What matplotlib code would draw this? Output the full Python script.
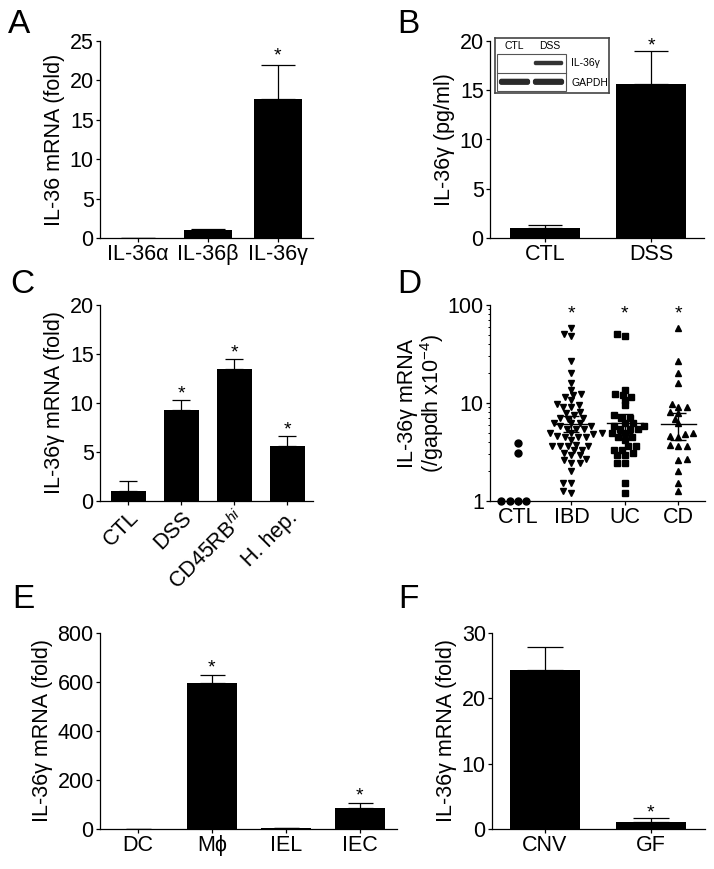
import numpy as np
import matplotlib
matplotlib.use('Agg')
import matplotlib.pyplot as plt
from matplotlib.patches import Rectangle, FancyBboxPatch

FS = 15.5
SFS = 14
plt.rcParams['font.family'] = ['Liberation Sans', 'DejaVu Sans']
plt.rcParams['mathtext.fontset'] = 'custom'
plt.rcParams['mathtext.rm'] = 'Liberation Sans'
plt.rcParams['mathtext.it'] = 'Liberation Sans:italic'
plt.rcParams['font.size'] = FS
plt.rcParams['axes.linewidth'] = 0.9

# ---------------- data ----------------
a_cats = ['IL-36α', 'IL-36β', 'IL-36γ']
a_vals = [0.0, 1.0, 17.6]
a_err = [0.0, 0.1, 4.3]
a_sig = [False, False, True]

b_cats = ['CTL', 'DSS']
b_vals = [1.05, 15.6]
b_err = [0.25, 3.4]
b_sig = [False, True]

c_cats = ['CTL', 'DSS', r'CD45RB$^{hi}$', 'H. hep.']
c_vals = [1.0, 9.3, 13.5, 5.6]
c_err = [1.0, 1.0, 1.0, 1.0]
c_sig = [False, True, True, True]

d_cats = ['CTL', 'IBD', 'UC', 'CD']
d_ctl = [3.9, 3.1, 1.0, 1.0, 1.0, 1.0]
d_uc = [50.6, 48.6, 13.6, 12.4, 11.6, 12.0, 10.7, 9.5, 7.5, 7.0, 7.0,
        6.3, 6.3, 5.8, 5.8, 5.4, 5.4, 5.4, 4.9, 4.9, 4.5, 4.5, 4.2,
        3.6, 3.6, 3.3, 3.3, 2.95, 3.07, 2.95, 2.46, 2.46, 1.54, 1.22]
d_cd = [57.8, 27.0, 20.1, 15.9, 9.7, 9.0, 9.0, 8.1, 7.85, 6.9, 6.2,
        4.9, 4.8, 4.6, 4.5, 3.7, 3.6, 3.6, 2.66, 2.62, 2.04, 1.54, 1.26]
d_ibd = d_uc + d_cd
d_mean = [None, 6.1, 6.2, 6.1]
d_upper = [None, 7.3, 7.7, 7.9]
d_lower = [None, 5.1, 4.9, 4.2]
d_sig = [False, True, True, True]

e_cats = ['DC', 'Mϕ', 'IEL', 'IEC']
e_vals = [2.0, 595.0, 4.0, 86.0]
e_err = [0.0, 33.0, 0.0, 20.0]
e_sig = [False, True, False, True]

f_cats = ['CNV', 'GF']
f_vals = [24.4, 1.0]
f_err = [3.4, 0.65]
f_sig = [False, True]

# ---------------- layout ----------------
W, H = 714, 869
fig = plt.figure(figsize=(W / 100, H / 100), dpi=100)


def px_axes(l, t, r, b):
    return fig.add_axes([l / W, 1 - b / H, (r - l) / W, (b - t) / H])


def style(ax):
    ax.spines['top'].set_visible(False)
    ax.spines['right'].set_visible(False)
    ax.tick_params(direction='out', length=3, width=0.9, pad=1.5, labelsize=FS)


def barpanel(ax, cats, vals, err, sig, xlim, ylim, yticks, ylabel,
             width, capsize, staroff=1.5):
    x = np.arange(len(cats))
    ax.errorbar(x, vals, yerr=[np.zeros(len(err)), err], fmt='none',
                ecolor='black', elinewidth=0.9, capsize=capsize,
                capthick=0.9, zorder=1)
    ax.bar(x, vals, width=width, color='black', zorder=2)
    for xi, v, e, s in zip(x, vals, err, sig):
        if s:
            ax.annotate('*', (xi, v + e), xytext=(0, staroff),
                        textcoords='offset points', ha='center',
                        va='baseline', fontsize=SFS)
    ax.set_xlim(*xlim)
    ax.set_ylim(*ylim)
    ax.set_yticks(yticks)
    ax.set_xticks(x)
    ax.set_xticklabels(cats)
    ax.set_ylabel(ylabel, fontsize=FS, labelpad=3)
    style(ax)


# A
axA = px_axes(100, 41, 313, 238)
barpanel(axA, a_cats, a_vals, a_err, a_sig, (-0.54, 2.5), (0, 25),
         [0, 5, 10, 15, 20, 25], 'IL-36 mRNA (fold)', 0.68, 12, staroff=3.5)

# B
axB = px_axes(490, 41, 704, 238)
barpanel(axB, b_cats, b_vals, b_err, b_sig, (-0.52, 1.5), (0, 20),
         [0, 5, 10, 15, 20], 'IL-36γ (pg/ml)', 0.66, 12.5, staroff=0.5)

# inset blot in B
axI = px_axes(495, 38, 609, 93)
axI.set_xlim(0, 114)
axI.set_ylim(55, 0)
axI.set_xticks([])
axI.set_yticks([])
for sp in axI.spines.values():
    sp.set_linewidth(1.2)
    sp.set_color('#444444')
axI.add_patch(Rectangle((2, 16), 69, 37, fill=False, ec='#555555', lw=0.8))
axI.plot([2, 71], [35, 35], color='#555555', lw=0.8)
lanes = [(4, 35), (38, 69)]
band_il = [False, True]
for (x0, x1), has in zip(lanes, band_il):
    if has:
        axI.add_patch(FancyBboxPatch((x0 + 2, 24), x1 - x0 - 4, 2.0,
                                     boxstyle='round,pad=1.2,rounding_size=1.8',
                                     fc='#333333', ec='none'))
    axI.add_patch(FancyBboxPatch((x0 + 1.5, 42.3), x1 - x0 - 3, 3.0,
                                 boxstyle='round,pad=1.6,rounding_size=2.5',
                                 fc='#2a2a2a', ec='none'))
axI.text(19, 8, 'CTL', ha='center', va='center', fontsize=7.5)
axI.text(55, 8, 'DSS', ha='center', va='center', fontsize=7.5)
axI.text(76, 25, 'IL-36γ', ha='left', va='center', fontsize=7.5)
axI.text(76, 44.5, 'GAPDH', ha='left', va='center', fontsize=7.5)

# C
axC = px_axes(100, 305, 313, 501)
barpanel(axC, c_cats, c_vals, c_err, c_sig, (-0.53, 3.49), (0, 20),
         [0, 5, 10, 15, 20], 'IL-36γ mRNA (fold)', 0.66, 6.5, staroff=1.0)
for lab in axC.get_xticklabels():
    lab.set_rotation(45)
    lab.set_ha('right')
    lab.set_rotation_mode('anchor')

# D
dl, dt, dr, db = 490, 305, 705, 501
axD = px_axes(dl, dt, dr, db)
dxlim = (-0.525, 3.5)
axD.set_xlim(*dxlim)
axD.set_yscale('log')
axD.set_ylim(1, 100)
ppu_x = (dr - dl) / (dxlim[1] - dxlim[0])
ppd_y = (db - dt) / 2.0


def swarm(vals, dx_px, dy_px):
    vals = np.asarray(vals, dtype=float)
    ys = np.log10(vals) * ppd_y
    order = np.argsort(vals, kind='stable')
    xs = np.zeros(len(vals))
    placed = []
    for k, i in enumerate(order):
        y = ys[i]
        cands = [0.0]
        for (px_, py_) in placed:
            r = (y - py_) / dy_px
            if abs(r) < 1:
                dx = dx_px * np.sqrt(1 - r ** 2)
                cands += [px_ + dx, px_ - dx]
        sgn = 1 if k % 2 == 0 else -1
        cands.sort(key=lambda c: (round(abs(c), 3), -sgn * c))
        for c in cands:
            ok = all(((c - px_) / dx_px) ** 2 + ((y - py_) / dy_px) ** 2 >= 1 - 1e-6
                     for (px_, py_) in placed)
            if ok:
                xs[i] = c
                break
        placed.append((xs[i], y))
    return xs / ppu_x


groups = [d_ctl, d_ibd, d_uc, d_cd]
markers = ['o', 'v', 's', '^']
msizes = [5, 5, 5, 5]
for gi, (vals, mk, ms) in enumerate(zip(groups, markers, msizes)):
    offs = swarm(vals, 8.3, 5.0)
    axD.plot(gi + offs, vals, linestyle='none', marker=mk, ms=ms,
             color='black', mec='black', clip_on=False, zorder=3)
    if d_mean[gi] is not None:
        axD.plot([gi - 0.33, gi + 0.33], [d_mean[gi]] * 2, color='black',
                 lw=1.0, zorder=4)
        axD.errorbar([gi], [d_mean[gi]],
                     yerr=[[d_mean[gi] - d_lower[gi]], [d_upper[gi] - d_mean[gi]]],
                     fmt='none', ecolor='black', elinewidth=1.0, capsize=6,
                     capthick=1.0, zorder=4)
    if d_sig[gi]:
        axD.annotate('*', (gi, 100), xytext=(0, -10), textcoords='offset points',
                     ha='center', va='baseline', fontsize=SFS)
axD.set_xticks(range(len(d_cats)))
axD.set_xticklabels(d_cats)
axD.set_yticks([1, 10, 100])
axD.set_yticklabels(['1', '10', '100'])
axD.set_ylabel('IL-36γ mRNA\n(/gapdh x10$^{-4}$)', fontsize=FS, labelpad=1,
               linespacing=1.0)
style(axD)
axD.tick_params(which='minor', direction='out', length=1.8, width=0.7)

# E
axE = px_axes(100, 633, 397, 829)
barpanel(axE, e_cats, e_vals, e_err, e_sig, (-0.51, 3.5), (0, 800),
         [0, 200, 400, 600, 800], 'IL-36γ mRNA (fold)', 0.68, 9, staroff=2.0)

# F
axF = px_axes(492, 633, 705, 829)
barpanel(axF, f_cats, f_vals, f_err, f_sig, (-0.5, 1.51), (0, 30),
         [0, 10, 20, 30], 'IL-36γ mRNA (fold)', 0.66, 13, staroff=0.5)

# panel letters
letters = [('A', 8, 33), ('B', 397, 33), ('C', 10, 293), ('D', 397, 293),
           ('E', 12, 608), ('F', 398, 608)]
for t, x, y in letters:
    fig.text(x / W, 1 - y / H, t, fontsize=24, ha='left', va='baseline')

fig.savefig('out.png', dpi=100)
